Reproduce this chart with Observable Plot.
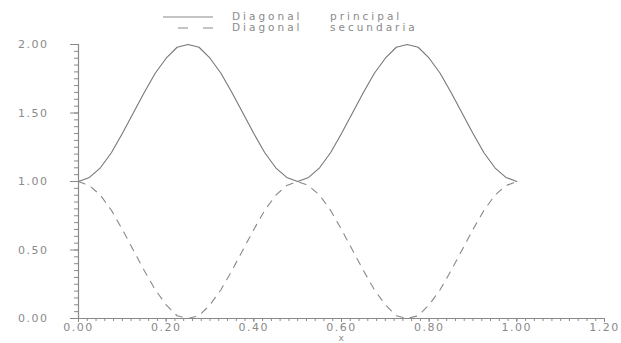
<!DOCTYPE html>
<html>
<head>
<meta charset="utf-8">
<script src="https://cdn.jsdelivr.net/npm/d3@7"></script>
<script src="https://cdn.jsdelivr.net/npm/@observablehq/plot@0.6"></script>
<style>
  html, body { margin: 0; padding: 0; background: #fff; }
  #wrap { position: relative; width: 621px; height: 343px; }
  #legend { position: absolute; left: 0; top: 0; width: 621px; height: 40px; pointer-events: none; }
  svg { font-family: "DejaVu Sans", sans-serif; }
</style>
</head>
<body>
<div id="wrap"></div>
<script>
// x positions of the sampled points
const xs = [0.000, 0.025, 0.050, 0.075, 0.100, 0.125, 0.150, 0.175, 0.200, 0.225,
            0.250, 0.275, 0.300, 0.325, 0.350, 0.375, 0.400, 0.425, 0.450, 0.475,
            0.500, 0.525, 0.550, 0.575, 0.600, 0.625, 0.650, 0.675, 0.700, 0.725,
            0.750, 0.775, 0.800, 0.825, 0.850, 0.875, 0.900, 0.925, 0.950, 0.975, 1.000];
// Diagonal principal (solid)
const principal = [1.00, 1.03, 1.10, 1.21, 1.35, 1.50, 1.65, 1.79, 1.90, 1.98,
                   2.00, 1.98, 1.90, 1.79, 1.65, 1.50, 1.35, 1.21, 1.10, 1.03,
                   1.00, 1.03, 1.10, 1.21, 1.35, 1.50, 1.65, 1.79, 1.90, 1.98,
                   2.00, 1.98, 1.90, 1.79, 1.65, 1.50, 1.35, 1.21, 1.10, 1.03, 1.00];
// Diagonal secundaria (dashed)
const secundaria = [1.00, 0.97, 0.90, 0.79, 0.65, 0.50, 0.35, 0.21, 0.10, 0.02,
                    0.00, 0.02, 0.10, 0.21, 0.35, 0.50, 0.65, 0.79, 0.90, 0.97,
                    1.00, 0.97, 0.90, 0.79, 0.65, 0.50, 0.35, 0.21, 0.10, 0.02,
                    0.00, 0.02, 0.10, 0.21, 0.35, 0.50, 0.65, 0.79, 0.90, 0.97, 1.00];
const seriesNames = ["Diagonal principal", "Diagonal secundaria"];
const xTicks = [0, 0.2, 0.4, 0.6, 0.8, 1.0, 1.2];
const yTicks = [0, 0.5, 1.0, 1.5, 2.0];
const xMinorTicks = d3.range(0, 1.2001, 0.02);
const yMinorTicks = d3.range(0, 2.0001, 0.05);

const dataP = xs.map((x, i) => ({x, y: principal[i]}));
const dataS = xs.map((x, i) => ({x, y: secundaria[i]}));

const ink = "#8a8a8a";
const plot = Plot.plot({
  width: 621,
  height: 343,
  marginLeft: 78,
  marginRight: 17,
  marginTop: 44,
  marginBottom: 25,
  style: {background: "#fff", color: ink, fontSize: "11px", fontFamily: "DejaVu Sans, sans-serif"},
  x: {domain: [0, 1.2]},
  y: {domain: [0, 2]},
  marks: [
    Plot.axisX({ticks: xMinorTicks, tickSize: 3, text: null, label: null, stroke: ink}),
    Plot.axisX({ticks: xTicks, tickSize: 4, tickPadding: 1, tickFormat: d3.format(".2f"),
                label: null, stroke: ink, fill: ink}),
    Plot.axisY({ticks: yMinorTicks, tickSize: 4, text: null, label: null, stroke: ink}),
    Plot.axisY({ticks: yTicks, tickSize: 8, tickPadding: 22, tickFormat: d3.format(".2f"),
                label: null, stroke: ink, fill: ink}),
    Plot.ruleX([0], {stroke: ink, strokeWidth: 1.2}),
    Plot.ruleY([0], {stroke: ink, strokeWidth: 1.2}),
    Plot.line(dataP, {x: "x", y: "y", stroke: "#777", strokeWidth: 1.1}),
    Plot.line(dataS, {x: "x", y: "y", stroke: "#888", strokeWidth: 1.1, strokeDasharray: "7,7"})
  ]
});
plot.style.letterSpacing = "1.5px";
document.getElementById("wrap").appendChild(plot);

// x-axis title "x", centred under the plot at the very bottom
d3.select(plot).append("text")
  .attr("x", 342).attr("y", 341).attr("text-anchor", "middle")
  .attr("fill", ink).attr("font-size", 9).text("x");

// legend overlay
const legend = d3.select("#wrap").append("svg")
  .attr("id", "legend").attr("width", 621).attr("height", 40)
  .style("position", "absolute").style("left", 0).style("top", 0);
const rows = [{name: seriesNames[0], dash: null, y: 17}, {name: seriesNames[1], dash: "10,15", y: 28}];
rows.forEach((r, i) => {
  legend.append("line").attr("x1", i === 0 ? 163 : 178).attr("x2", 213)
    .attr("y1", r.y).attr("y2", r.y).attr("stroke", "#888").attr("stroke-width", 1)
    .attr("stroke-dasharray", r.dash);
  const parts = r.name.split(" ");
  legend.append("text").attr("x", 232).attr("y", r.y + 3).text(parts[0])
    .attr("fill", ink).attr("font-size", 10.5).attr("letter-spacing", "3px")
    .attr("font-family", "DejaVu Sans, sans-serif");
  legend.append("text").attr("x", 330).attr("y", r.y + 3).text(parts[1])
    .attr("fill", ink).attr("font-size", 10.5).attr("letter-spacing", "3px")
    .attr("font-family", "DejaVu Sans, sans-serif");
});
</script>
</body>
</html>
